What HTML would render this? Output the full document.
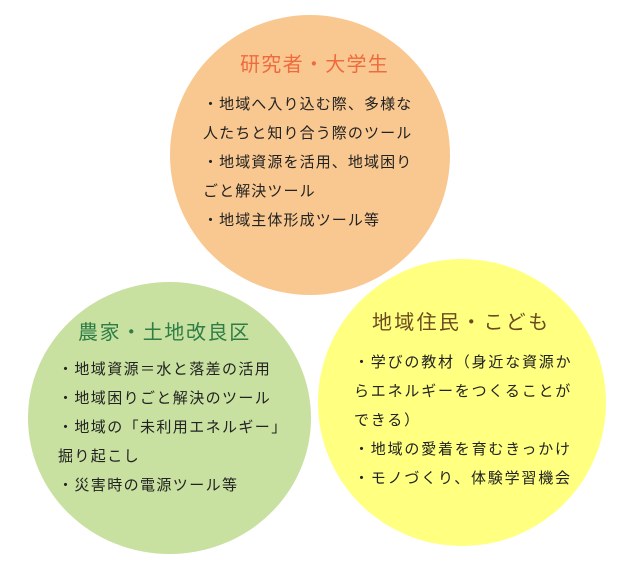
<!DOCTYPE html>
<html><head><meta charset="utf-8"><style>
body{margin:0;width:631px;height:569px;background:#fff;position:relative;overflow:hidden;font-family:"Liberation Sans","Noto Sans CJK JP",sans-serif;}
.c{position:absolute;border-radius:50%;}
.t{position:absolute;white-space:nowrap;font-size:15px;letter-spacing:1.4px;color:#222;line-height:29px;}
.h{position:absolute;white-space:nowrap;font-size:20px;letter-spacing:1.6px;line-height:24px;}
</style></head><body>
<div class="c" style="left:170px;top:15px;width:280px;height:280px;background:#f9c890"></div>
<div class="c" style="left:28px;top:282px;width:283px;height:272px;background:#c8e0a0"></div>
<div class="c" style="left:318px;top:259px;width:288px;height:287px;background:#ffff80"></div>
<div class="h" style="left:240px;top:53px;color:#ef6a3e;letter-spacing:1.3px">研究者・大学生</div>
<div class="t" style="left:203px;top:90px;letter-spacing:1.1px">・地域へ入り込む際、多様な<br>人たちと知り合う際のツール<br>・地域資源を活用、地域困り<br>ごと解決ツール<br>・地域主体形成ツール等</div>
<div class="h" style="left:78px;top:321px;color:#2e7d46">農家・土地改良区</div>
<div class="t" style="left:58px;top:355px">・地域資源＝水と落差の活用<br>・地域困りごと解決のツール<br>・地域の「未利用エネルギー」<br>掘り起こし<br>・災害時の電源ツール等</div>
<div class="h" style="left:372px;top:311px;color:#6b4a20;letter-spacing:2.3px">地域住民・こども</div>
<div class="t" style="left:354px;top:348px;letter-spacing:1.8px">・学びの教材（身近な資源か<br>らエネルギーをつくることが<br>できる）<br>・地域の愛着を育むきっかけ<br>・モノづくり、体験学習機会</div>
</body></html>
